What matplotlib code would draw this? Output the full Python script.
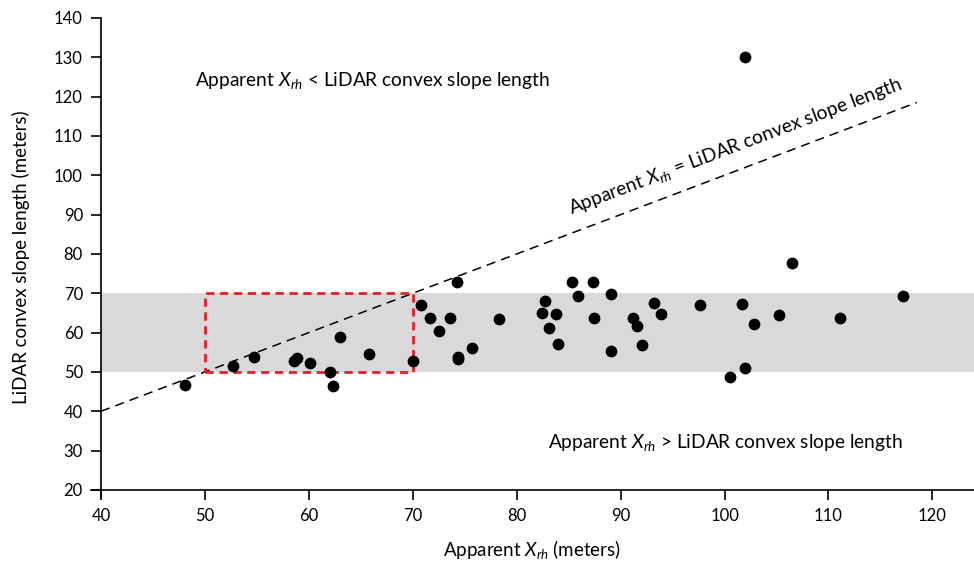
import matplotlib.pyplot as plt

plt.rcParams['font.family'] = ['Lato', 'DejaVu Sans']
plt.rcParams['mathtext.fontset'] = 'custom'
plt.rcParams['mathtext.rm'] = 'Lato'
plt.rcParams['mathtext.it'] = 'Lato:italic'

# apparent Xrh (m) vs LiDAR convex slope length (m)
apparent_xrh = [48.1, 52.7, 54.75, 58.6, 58.9, 60.1, 63.0, 62.0, 62.3, 65.8,
                70.0, 70.8, 71.7, 72.5, 73.6, 74.3, 74.4, 74.4, 75.7, 78.3,
                82.7, 82.4, 83.75, 83.1, 84.0, 85.3, 85.9, 87.3, 87.4, 89.1,
                89.1, 91.2, 91.55, 92.1, 93.2, 93.9, 97.6, 101.7, 102.8, 102.0,
                100.5, 105.2, 106.5, 111.15, 117.15, 102.0]
lidar_length = [46.6, 51.6, 53.8, 52.8, 53.6, 52.3, 59.0, 50.0, 46.5, 54.6,
                52.8, 67.0, 63.7, 60.3, 63.7, 72.8, 53.9, 53.3, 56.0, 63.5,
                68.1, 64.9, 64.7, 61.1, 57.0, 72.9, 69.3, 72.8, 63.6, 69.8,
                55.2, 63.7, 61.7, 56.8, 67.4, 64.7, 66.9, 67.3, 62.1, 51.1,
                48.6, 64.4, 77.6, 63.7, 69.4, 130.0]

band_y = [50, 70]          # shaded range of LiDAR slope lengths
box_x = [50, 70]           # red highlight box
box_y = [50, 70]
one_to_one = [40, 118.5]   # extent of the 1:1 line

x_ticks = list(range(40, 121, 10))
y_ticks = list(range(20, 141, 10))

fig = plt.figure(figsize=(9.74, 5.69), dpi=100)
ax = fig.add_axes([0.093, 0.1265, 0.907, 0.842])

ax.fill_between([40, 124], band_y[0], band_y[1], color='#d9d9d9', lw=0, zorder=0)
ax.plot(one_to_one, one_to_one, color='black', ls=(0, (6, 4)), lw=1.1, zorder=1)
ax.plot([box_x[0], box_x[1], box_x[1], box_x[0], box_x[0]],
        [box_y[0], box_y[0], box_y[1], box_y[1], box_y[0]],
        color='#e3202a', ls=(0, (3, 2)), lw=2.0, zorder=2)
ax.scatter(apparent_xrh, lidar_length, s=72, color='black', lw=0, zorder=3)

ax.text(49, 124.2, r'Apparent $X_{rh}$ < LiDAR convex slope length',
        fontsize=13.8, va='center', ha='left')
ax.text(83.0, 32, r'Apparent $X_{rh}$ > LiDAR convex slope length',
        fontsize=13.8, va='center', ha='left')
ax.text(85.4, 88.8, r'Apparent $X_{rh}$ = LiDAR convex slope length',
        fontsize=13.8, rotation=20.7, rotation_mode='anchor',
        ha='left', va='bottom')

ax.set_xlim(39, 124)
ax.set_ylim(18.2, 140)
ax.spines['left'].set_position(('data', 40))
ax.spines['bottom'].set_position(('data', 20))
ax.spines['left'].set_bounds(18.2, 140)
ax.spines['top'].set_visible(False)
ax.spines['right'].set_visible(False)
for s in ['left', 'bottom']:
    ax.spines[s].set_linewidth(1.2)

ax.set_xticks(x_ticks)
ax.set_yticks(y_ticks)
ax.tick_params(direction='out', length=7, width=1.2, labelsize=12, pad=6)

ax.set_xlabel(r'Apparent $X_{rh}$ (meters)', fontsize=13.5, labelpad=10)
ax.set_ylabel('LiDAR convex slope length (meters)', fontsize=13.5, labelpad=17)

fig.savefig('out.png', dpi=100)
